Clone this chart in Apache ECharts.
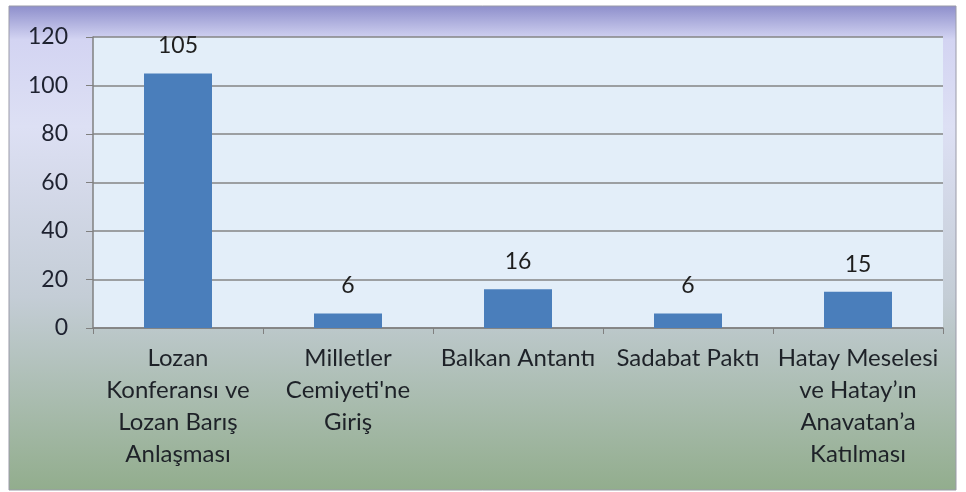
<!DOCTYPE html>
<html><head><meta charset="utf-8">
<script src="https://cdn.jsdelivr.net/npm/echarts@6/dist/echarts.min.js"></script>
<style>html,body{margin:0;padding:0;background:#fff}#c{width:966px;height:492px}</style>
</head><body><div id="c"></div>
<script>
const categories = ["Lozan\nKonferansı ve\nLozan Barış\nAnlaşması", "Milletler\nCemiyeti'ne\nGiriş", "Balkan Antantı", "Sadabat Paktı", "Hatay Meselesi\nve Hatay’ın\nAnavatan’a\nKatılması"];
const values = [105, 6, 16, 6, 15];
const yTicks = [0, 20, 40, 60, 80, 100, 120];

const chart = echarts.init(document.getElementById('c'), null, {renderer: 'canvas'});
const font = 'Lato, "Open Sans", sans-serif';
chart.setOption({
  animation: false,
  graphic: [{
    type: 'rect', z: -10, silent: true,
    shape: {x: 9, y: 6, width: 947, height: 484},
    style: {
      fill: new echarts.graphic.LinearGradient(0, 0, 0, 1, [
        {offset: 0, color: '#8d8ecb'},
        {offset: 0.07, color: '#d3d4f2'},
        {offset: 0.25, color: '#dde0f4'},
        {offset: 0.6, color: '#c4cdd6'},
        {offset: 1, color: '#92ad8d'}
      ]),
      stroke: '#9a9aa8', lineWidth: 1
    }
  }],
  grid: {left: 93, right: 23, top: 37, bottom: 164, show: true, backgroundColor: '#e3eef9', borderWidth: 0},
  xAxis: {
    type: 'category', data: categories,
    axisLine: {lineStyle: {color: '#808080', width: 1.5}},
    axisTick: {show: true, length: 6, lineStyle: {color: '#808080'}},
    axisLabel: {interval: 0, color: '#1e2228', fontFamily: font, fontSize: 24, lineHeight: 32, margin: 14}
  },
  yAxis: {
    type: 'value', min: yTicks[0], max: yTicks[yTicks.length - 1], interval: 20,
    axisLine: {show: true, lineStyle: {color: '#808080', width: 1.5}},
    axisTick: {show: true, length: 7, lineStyle: {color: '#808080'}},
    splitLine: {lineStyle: {color: '#848484', width: 1.5}},
    axisLabel: {color: '#1e2230', fontFamily: font, fontSize: 23, margin: 25}
  },
  series: [{
    type: 'bar', data: values, barWidth: '40%',
    itemStyle: {color: '#4a7ebb'},
    label: {show: true, position: 'top', distance: 16, color: '#1e1e1e', fontFamily: font, fontSize: 23}
  }]
});
</script></body></html>
